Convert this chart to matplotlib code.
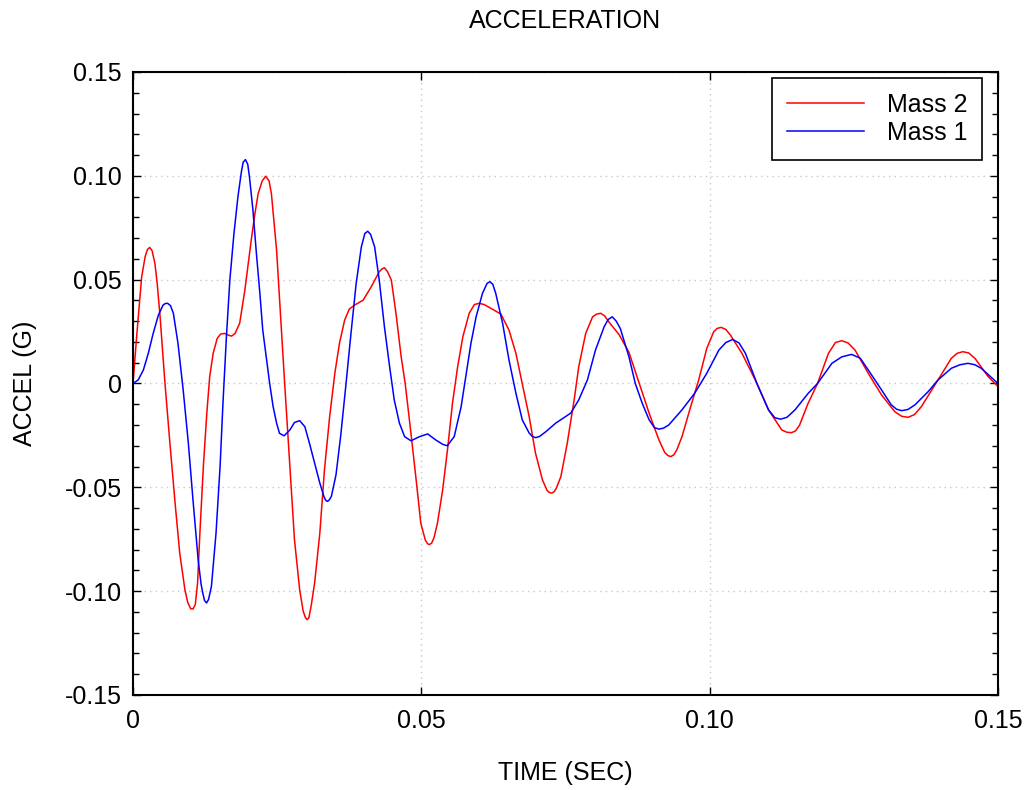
import matplotlib

matplotlib.use("Agg")
import matplotlib.pyplot as plt
from matplotlib.ticker import FixedLocator, FixedFormatter, MultipleLocator

plt.rcParams["font.family"] = ["Liberation Sans", "DejaVu Sans"]

# values: (time in s, acceleration in G)
mass2 = [
    (0.0, 0.0), (0.00063, 0.0225), (0.0015, 0.0513), (0.0021, 0.061), (0.0025, 0.0645),
    (0.0029, 0.0655), (0.0033, 0.0640), (0.0038, 0.0578), (0.0042, 0.048), (0.0047, 0.0321),
    (0.0055, 0.0017), (0.0064, -0.0288), (0.0073, -0.0576), (0.0081, -0.0816), (0.0090, -0.0993),
    (0.0095, -0.1055), (0.0100, -0.1085), (0.0104, -0.1086), (0.0108, -0.1065), (0.0112, -0.096),
    (0.0116, -0.0720), (0.0122, -0.0400), (0.0128, -0.0143), (0.0133, 0.0033), (0.0139, 0.0145),
    (0.0146, 0.0217), (0.0152, 0.0238), (0.0159, 0.0241), (0.0165, 0.0233), (0.0171, 0.0228),
    (0.0177, 0.0241), (0.0185, 0.029), (0.0194, 0.045), (0.0205, 0.069), (0.0211, 0.081),
    (0.0217, 0.0914), (0.0224, 0.0975), (0.0230, 0.0998), (0.0236, 0.0975), (0.0240, 0.0914),
    (0.0249, 0.0642), (0.0257, 0.0273), (0.0263, 0.0), (0.0272, -0.040), (0.0280, -0.0752),
    (0.0289, -0.0993), (0.0295, -0.1095), (0.0299, -0.1128), (0.0302, -0.1137), (0.0305, -0.1128),
    (0.0309, -0.107), (0.0315, -0.096), (0.0324, -0.072), (0.0332, -0.0416), (0.0341, -0.016),
    (0.0350, 0.0049), (0.0358, 0.0193), (0.0367, 0.0305), (0.0375, 0.0358), (0.0384, 0.0377),
    (0.0399, 0.0401), (0.0413, 0.0465), (0.0427, 0.0538), (0.0432, 0.0552), (0.0436, 0.0557),
    (0.0441, 0.0540), (0.0448, 0.0498), (0.0456, 0.0338), (0.0465, 0.0129), (0.0472, 0.0),
    (0.0482, -0.024), (0.0491, -0.0464), (0.0499, -0.0672), (0.0507, -0.0755), (0.0511, -0.0772),
    (0.0514, -0.0776), (0.0518, -0.0768), (0.0522, -0.0742), (0.0528, -0.0672), (0.0537, -0.0512),
    (0.0546, -0.0304), (0.0554, -0.0095), (0.0563, 0.0081), (0.0572, 0.0225), (0.0583, 0.0338),
    (0.0592, 0.0380), (0.0600, 0.0386), (0.0609, 0.0380), (0.0618, 0.0366), (0.0638, 0.0334),
    (0.0652, 0.0257), (0.0664, 0.0145), (0.0675, 0.0), (0.0687, -0.016), (0.0698, -0.0336),
    (0.0710, -0.0464), (0.0718, -0.0515), (0.0722, -0.0525), (0.0726, -0.0528), (0.0730, -0.0522),
    (0.0734, -0.0505), (0.0742, -0.0448), (0.0753, -0.0288), (0.0765, -0.0079), (0.0773, 0.0081),
    (0.0785, 0.0241), (0.0797, 0.0321), (0.0804, 0.0334), (0.0811, 0.0338), (0.0818, 0.0325),
    (0.0825, 0.0297), (0.0843, 0.0235), (0.0860, 0.0150), (0.0878, 0.0), (0.0895, -0.0143),
    (0.0912, -0.0272), (0.0922, -0.0332), (0.0928, -0.0348), (0.0933, -0.0352), (0.0938, -0.0343),
    (0.0943, -0.032), (0.0952, -0.0256), (0.0967, -0.0112), (0.0981, 0.0017), (0.0995, 0.0169),
    (0.1007, 0.0249), (0.1013, 0.0265), (0.1020, 0.027), (0.1028, 0.0260), (0.1036, 0.0233),
    (0.1056, 0.0145), (0.1079, 0.0017), (0.1102, -0.0127), (0.1125, -0.0224), (0.1134, -0.0235),
    (0.1142, -0.0237), (0.1149, -0.0228), (0.1156, -0.020), (0.1170, -0.0100), (0.1187, 0.0),
    (0.1206, 0.0145), (0.1218, 0.0197), (0.1229, 0.0206), (0.1240, 0.0195), (0.1252, 0.0161),
    (0.1275, 0.0049), (0.1298, -0.0055), (0.1321, -0.0136), (0.1333, -0.0158), (0.1344, -0.0163),
    (0.1355, -0.0150), (0.1367, -0.0112), (0.1396, 0.0017), (0.1419, 0.0121), (0.1429, 0.0145),
    (0.1439, 0.0153), (0.1449, 0.0147), (0.1460, 0.0121), (0.1483, 0.0033), (0.1500, -0.0015),
]

mass1 = [
    (0.0, 0.0), (0.0009, 0.0017), (0.0018, 0.0065), (0.00265, 0.0145), (0.0035, 0.0241),
    (0.0044, 0.0329), (0.0052, 0.0377), (0.0056, 0.0385), (0.0060, 0.0386), (0.0065, 0.0375),
    (0.0070, 0.0338), (0.0078, 0.0193), (0.0087, -0.0031), (0.0096, -0.0288), (0.0104, -0.056),
    (0.0113, -0.0849), (0.0118, -0.0965), (0.0121, -0.1009), (0.0124, -0.1045), (0.01275, -0.1057),
    (0.0131, -0.1040), (0.0136, -0.0977), (0.0144, -0.072), (0.0151, -0.040), (0.0156, -0.0095),
    (0.0162, 0.0225), (0.0168, 0.050), (0.0175, 0.072), (0.0182, 0.090), (0.0188, 0.102),
    (0.0191, 0.1065), (0.0195, 0.1078), (0.0199, 0.1055), (0.0202, 0.0994), (0.0208, 0.0834),
    (0.0214, 0.0626), (0.0220, 0.0434), (0.0225, 0.0257), (0.0231, 0.0129), (0.0237, 0.0),
    (0.0243, -0.0112), (0.0249, -0.0191), (0.0254, -0.024), (0.0262, -0.0252), (0.0272, -0.0224),
    (0.0280, -0.0188), (0.0289, -0.0179), (0.0298, -0.0208), (0.0306, -0.0288), (0.0315, -0.0384),
    (0.0324, -0.048), (0.0331, -0.0544), (0.0334, -0.0562), (0.0337, -0.0568), (0.0340, -0.0562),
    (0.0344, -0.0544), (0.0352, -0.0440), (0.0360, -0.0256), (0.0368, -0.004), (0.0378, 0.0241),
    (0.0387, 0.0482), (0.0396, 0.0658), (0.0402, 0.0722), (0.0407, 0.0733), (0.0412, 0.0718),
    (0.0419, 0.0658), (0.0427, 0.0498), (0.0436, 0.0273), (0.0445, 0.0081), (0.0453, -0.0079),
    (0.0462, -0.0191), (0.0471, -0.0256), (0.0482, -0.0276), (0.0497, -0.0256), (0.0511, -0.0243),
    (0.0525, -0.0272), (0.0537, -0.0293), (0.0545, -0.030), (0.0557, -0.0256), (0.0569, -0.0112),
    (0.0577, 0.0033), (0.0586, 0.0193), (0.0595, 0.0321), (0.0606, 0.0434), (0.0614, 0.0482),
    (0.0619, 0.049), (0.0624, 0.0477), (0.0629, 0.0434), (0.0641, 0.0289), (0.0652, 0.0113),
    (0.0664, -0.0047), (0.0675, -0.0175), (0.0687, -0.0239), (0.0692, -0.0254), (0.0698, -0.0261),
    (0.0705, -0.0255), (0.0716, -0.0232), (0.0733, -0.0191), (0.0759, -0.0143), (0.0773, -0.0079),
    (0.0788, 0.0017), (0.0802, 0.0161), (0.0817, 0.0273), (0.0824, 0.0308), (0.0831, 0.0321),
    (0.0838, 0.0300), (0.0845, 0.0265), (0.0860, 0.0129), (0.0871, 0.0), (0.0883, -0.0095),
    (0.0895, -0.0175), (0.0904, -0.0212), (0.0912, -0.022), (0.0920, -0.0215), (0.0929, -0.020),
    (0.0952, -0.0127), (0.0974, -0.0047), (0.0995, 0.0049), (0.1016, 0.0161), (0.1028, 0.0197),
    (0.1040, 0.0212), (0.1051, 0.0195), (0.1062, 0.0145), (0.1082, 0.0), (0.1102, -0.0127),
    (0.1113, -0.0165), (0.1123, -0.0172), (0.1134, -0.0163), (0.1148, -0.0127), (0.1171, -0.0047),
    (0.1187, 0.0), (0.1212, 0.0097), (0.1229, 0.0128), (0.1246, 0.014), (0.1261, 0.0122),
    (0.1275, 0.0065), (0.1298, -0.0031), (0.1315, -0.0103), (0.1324, -0.0124), (0.1333, -0.0131),
    (0.1344, -0.0125), (0.1356, -0.0103), (0.1379, -0.0039), (0.1396, 0.0017), (0.1419, 0.0073),
    (0.1434, 0.0090), (0.1448, 0.0097), (0.1460, 0.0090), (0.1471, 0.0073), (0.1500, 0.0),
]

x_ticks = [0.0, 0.05, 0.10, 0.15]
x_tick_labels = ["0", "0.05", "0.10", "0.15"]
y_ticks = [-0.15, -0.10, -0.05, 0.0, 0.05, 0.10, 0.15]
y_tick_labels = ["-0.15", "-0.10", "-0.05", "0", "0.05", "0.10", "0.15"]

FS = 18

t2, a2 = zip(*mass2)
t1, a1 = zip(*mass1)

fig = plt.figure(figsize=(10.31, 7.90), dpi=100)
ax = fig.add_axes([0.129, 0.1203, 0.839, 0.7886])

ax.plot(t2, a2, color="#ff0000", lw=1.1, label="Mass 2")
ax.plot(t1, a1, color="#0000ff", lw=1.1, label="Mass 1")

ax.set_xlim(0, 0.15)
ax.set_ylim(-0.15, 0.15)
ax.xaxis.set_major_locator(FixedLocator(x_ticks))
ax.xaxis.set_major_formatter(FixedFormatter(x_tick_labels))
ax.yaxis.set_major_locator(FixedLocator(y_ticks))
ax.yaxis.set_major_formatter(FixedFormatter(y_tick_labels))
ax.yaxis.set_minor_locator(MultipleLocator(0.01))

ax.tick_params(which="both", direction="in", top=True, right=True, labelsize=FS)
ax.tick_params(which="major", length=6, width=1)
ax.tick_params(which="minor", length=4, width=1)
ax.tick_params(axis="x", pad=10)
ax.tick_params(axis="y", pad=8)

ax.grid(True, which="major", color="#c8c8c8", linestyle=(0, (1, 3)), linewidth=1)
for side in ax.spines.values():
    side.set_linewidth(1.5)

ax.set_title("ACCELERATION", fontsize=FS, pad=32)
ax.set_xlabel("TIME (SEC)", fontsize=FS, labelpad=20)
ax.set_ylabel("ACCEL (G)", fontsize=FS, labelpad=20)

leg = ax.legend(loc="upper right", fontsize=FS, frameon=True, fancybox=False,
                edgecolor="black", framealpha=1, handlelength=3.1,
                handletextpad=0.9, borderpad=0.6, labelspacing=0.15,
                bbox_to_anchor=(0.9815, 0.990), borderaxespad=0)
leg.get_frame().set_linewidth(1.2)

fig.savefig("out.png", dpi=100)
